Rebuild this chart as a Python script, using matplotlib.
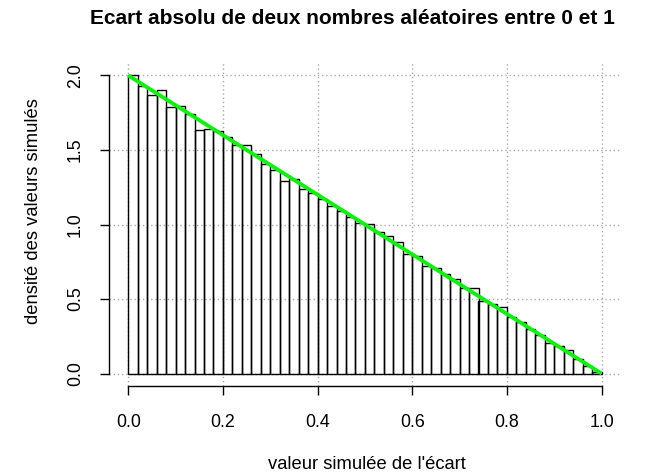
import numpy as np
import matplotlib
matplotlib.use("Agg")
import matplotlib.pyplot as plt

plt.rcParams['font.family'] = ['Liberation Sans', 'DejaVu Sans']

# Histogram data (density), 50 bins of width 0.02 on [0, 1]
bin_edges = [i / 50 for i in range(51)]
densities = [2.00, 1.926, 1.870, 1.904, 1.785, 1.796, 1.743, 1.635, 1.640, 1.624,
             1.586, 1.532, 1.530, 1.472, 1.405, 1.366, 1.294, 1.304, 1.239, 1.214,
             1.171, 1.124, 1.093, 1.047, 1.012, 1.005, 0.948, 0.923, 0.880, 0.802,
             0.789, 0.722, 0.706, 0.665, 0.632, 0.577, 0.575, 0.488, 0.466, 0.444,
             0.378, 0.345, 0.300, 0.259, 0.202, 0.184, 0.157, 0.101, 0.054, 0.009]
# Theoretical density f(x) = 2(1-x)
line_x = [0.0, 1.0]
line_y = [2.0, 0.0]

x_ticks = [0.0, 0.2, 0.4, 0.6, 0.8, 1.0]
x_tick_labels = ["0.0", "0.2", "0.4", "0.6", "0.8", "1.0"]
y_ticks = [0.0, 0.5, 1.0, 1.5, 2.0]
y_tick_labels = ["0.0", "0.5", "1.0", "1.5", "2.0"]

title = "Ecart absolu de deux nombres aléatoires entre 0 et 1"
xlabel = "valeur simulée de l'écart"
ylabel = "densité des valeurs simulés"

fig = plt.figure(figsize=(6.55, 4.73), dpi=100)
ax = fig.add_axes([109.3 / 655, 1 - 385.5 / 473, (620.5 - 109.3) / 655, (385.5 - 63.5) / 473])

edges = np.array(bin_edges)
ax.bar(edges[:-1], densities, width=np.diff(edges), align='edge',
       facecolor='none', edgecolor='black', linewidth=1.0, zorder=2)

ax.plot(line_x, line_y, color='#11EE11', linewidth=2.8, zorder=3, solid_capstyle='butt')

ax.set_xlim(-0.04, 1.04)
ax.set_ylim(-0.08, 2.08)

for xv in x_ticks:
    ax.axvline(xv, color='#a8a8a8', linestyle=(0, (1, 2)), linewidth=1.0, zorder=1)
for yv in y_ticks:
    ax.axhline(yv, color='#a8a8a8', linestyle=(0, (1, 2)), linewidth=1.0, zorder=1)

for s in ['top', 'right']:
    ax.spines[s].set_visible(False)
ax.spines['bottom'].set_bounds(0, 1)
ax.spines['left'].set_bounds(0, 2)
ax.spines['bottom'].set_linewidth(1.0)
ax.spines['left'].set_linewidth(1.0)

ax.set_xticks(x_ticks)
ax.set_xticklabels(x_tick_labels)
ax.set_yticks(y_ticks)
ax.set_yticklabels(y_tick_labels, rotation=90, va='center')
ax.tick_params(axis='both', length=6.5, width=1.0, labelsize=12.8)
ax.tick_params(axis='x', pad=14)
ax.tick_params(axis='y', pad=11.8)

fig.text(352 / 655, 1 - 18 / 473, title, fontsize=15, fontweight='bold',
         ha='center', va='center')
fig.text(367 / 655, 1 - 464 / 473, xlabel, fontsize=13.2, ha='center', va='center')
fig.text(34 / 655, 1 - 211 / 473, ylabel, fontsize=13.2, ha='center', va='center',
         rotation=90)

fig.savefig("out.png", dpi=100)
